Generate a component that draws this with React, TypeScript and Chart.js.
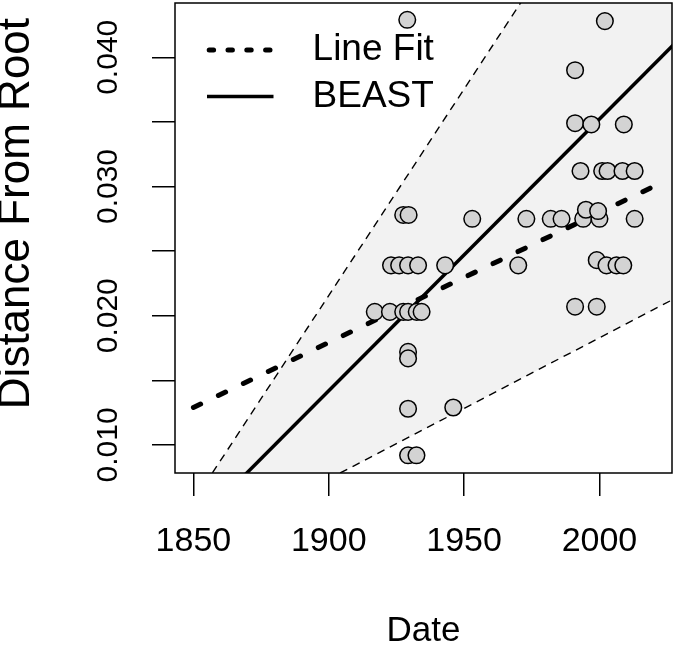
import React, { useEffect, useRef } from 'react';
import { Chart, registerables } from 'chart.js';

Chart.register(...registerables);

// ---- data ----
const sampleDates = [
  1929, 1927.5, 1929.5, 2002, 1991, 1991, 1997, 2009, 1993, 2001, 2003, 2008.5, 2013,
  1953, 1973, 1982, 1986, 1994, 2000, 2013, 1995, 1999.5, 1923, 1926, 1929.3, 1933,
  1943, 1970, 1999, 2002.6, 2006.3, 2008.8, 1917, 1922.6, 1927.5, 1929.3, 1932.5,
  1934.3, 1929.3, 1929.3, 1929.3, 1946, 1929.3, 1932.4, 1991, 1999,
];
const rootDistances = [
  0.0429, 0.0278, 0.0278, 0.0428, 0.039, 0.0349, 0.0348, 0.0348, 0.0312, 0.0312, 0.0312,
  0.0312, 0.0312, 0.0275, 0.0275, 0.0275, 0.0275, 0.0275, 0.0275, 0.0275, 0.0282, 0.0281,
  0.0239, 0.0239, 0.0239, 0.0239, 0.0239, 0.0239, 0.0243, 0.0239, 0.0239, 0.0239, 0.0203,
  0.0203, 0.0203, 0.0203, 0.0203, 0.0203, 0.0172, 0.0167, 0.0128, 0.0129, 0.0092, 0.0092,
  0.0207, 0.0207,
];

const beastLineX = [1840, 2030];
const beastLineY = [0.00158, 0.04153];
const upperBoundX = [1840, 2030];
const upperBoundY = [0.0024, 0.0631];
const lowerBoundX = [1840, 2030];
const lowerBoundY = [0.00082, 0.02157];
const lineFitX = [1850, 2020];
const lineFitY = [0.0129, 0.03];

const xTickValues = [1850, 1900, 1950, 2000];
const yTickValues = [0.01, 0.015, 0.02, 0.025, 0.03, 0.035, 0.04];
const yLabeledTicks = [0.01, 0.02, 0.03, 0.04];

const legendNames = ['Line Fit', 'BEAST'];
const xTitle = 'Date';
const yTitle = 'Distance From Root';

const FONT = "'Liberation Sans', Arial, Helvetica, sans-serif";

const toPoints = (xs: number[], ys: number[]) => xs.map((x, i) => ({ x, y: ys[i] }));

const plotBox = {
  id: 'plotBox',
  afterDatasetsDraw(chart: any) {
    const { ctx, chartArea: a } = chart;
    ctx.save();
    ctx.strokeStyle = '#000';
    ctx.lineWidth = 1.5;
    ctx.strokeRect(a.left, a.top, a.right - a.left, a.bottom - a.top);
    ctx.restore();
  },
};

export default function App() {
  const canvasRef = useRef<HTMLCanvasElement | null>(null);

  useEffect(() => {
    const canvas = canvasRef.current;
    if (!canvas) return;
    const chart = new Chart(canvas, {
      type: 'line',
      data: {
        datasets: [
          {
            label: 'samples',
            data: toPoints(sampleDates, rootDistances),
            showLine: false,
            pointRadius: 8.3,
            pointBorderWidth: 1.5,
            pointBackgroundColor: '#d3d3d3',
            pointBorderColor: '#000',
            order: 0,
          },
          {
            label: legendNames[1],
            data: toPoints(beastLineX, beastLineY),
            borderColor: '#000',
            borderWidth: 3.5,
            pointRadius: 0,
            clip: 0,
            order: 1,
          },
          {
            label: legendNames[0],
            data: toPoints(lineFitX, lineFitY),
            borderColor: '#000',
            borderWidth: 5,
            borderDash: [8, 19.7],
            borderCapStyle: 'round',
            pointRadius: 0,
            clip: 0,
            order: 2,
          },
          {
            label: 'upper',
            data: toPoints(upperBoundX, upperBoundY),
            borderColor: '#000',
            borderWidth: 1.4,
            borderDash: [8, 6],
            backgroundColor: '#f2f2f2',
            fill: '+1',
            pointRadius: 0,
            clip: 0,
            order: 3,
          },
          {
            label: 'lower',
            data: toPoints(lowerBoundX, lowerBoundY),
            borderColor: '#000',
            borderWidth: 1.4,
            borderDash: [8, 6],
            pointRadius: 0,
            fill: false,
            clip: 0,
            order: 4,
          },
        ],
      } as any,
      options: {
        animation: false,
        responsive: false,
        devicePixelRatio: 1,
        layout: { autoPadding: false, padding: { left: 0, top: 3, right: 3, bottom: 0 } },
        scales: {
          x: {
            type: 'linear',
            position: 'bottom',
            min: 1843.2,
            max: 2026.8,
            afterBuildTicks: (s: any) => {
              s.ticks = xTickValues.map((v) => ({ value: v }));
            },
            afterFit: (s: any) => {
              s.height = 176;
              s.paddingLeft = 0;
              s.paddingRight = 0;
            },
            border: { display: false },
            grid: { drawOnChartArea: false, drawTicks: true, tickLength: 23, color: '#000', lineWidth: 1.5 },
            ticks: {
              autoSkip: false,
              minRotation: 0,
              maxRotation: 0,
              padding: 25.6,
              color: '#000',
              font: { family: FONT, size: 34, lineHeight: 1.2 },
              callback: (v: any) => String(v),
            },
            title: {
              display: true,
              text: xTitle,
              color: '#000',
              padding: 0,
              font: { family: FONT, size: 35, lineHeight: '35px' },
            },
          },
          y: {
            type: 'linear',
            position: 'left',
            min: 0.00783,
            max: 0.0442,
            afterBuildTicks: (s: any) => {
              s.ticks = yTickValues.map((v) => ({ value: v }));
            },
            afterFit: (s: any) => {
              s.width = 175;
              s.paddingTop = 0;
              s.paddingBottom = 0;
            },
            border: { display: false },
            grid: { drawOnChartArea: false, drawTicks: true, tickLength: 23, color: '#000', lineWidth: 1.5 },
            ticks: {
              autoSkip: false,
              minRotation: 90,
              maxRotation: 90,
              crossAlign: 'center',
              padding: 6,
              color: '#000',
              font: { family: FONT, size: 30, lineHeight: 1.2 },
              callback: (v: any) =>
                yLabeledTicks.some((t) => Math.abs(t - Number(v)) < 1e-9) ? Number(v).toFixed(3) : '',
            },
            title: {
              display: true,
              text: '    ' + yTitle,
              color: '#000',
              padding: 0,
              font: { family: FONT, size: 44, lineHeight: '34px' },
            },
          },
        },
        plugins: {
          filler: { drawTime: 'beforeDatasetsDraw' },
          tooltip: { enabled: false },
          legend: {
            position: 'chartArea',
            align: 'start',
            title: { display: true, text: '', padding: 0, font: { size: 10, lineHeight: '22px' } },
            labels: {
              color: '#000',
              padding: 9.5,
              usePointStyle: true,
              pointStyleWidth: 89,
              font: { family: FONT, size: 37 },
              generateLabels: () => [
                {
                  text: '  ' + legendNames[0],
                  fontColor: '#000',
                  fillStyle: 'rgba(0,0,0,0)',
                  strokeStyle: '#000',
                  lineWidth: 5,
                  lineCap: 'round',
                  lineDash: [4.4, 14.4, 4.4, 14.4, 4.4, 14.4, 4.4, 40],
                  lineDashOffset: 76.1,
                  pointStyle: 'line',
                  hidden: false,
                  datasetIndex: 2,
                },
                {
                  text: '  ' + legendNames[1],
                  fontColor: '#000',
                  fillStyle: 'rgba(0,0,0,0)',
                  strokeStyle: '#000',
                  lineWidth: 3.5,
                  lineCap: 'butt',
                  lineDash: [66.5, 22.5],
                  lineDashOffset: 66.5,
                  pointStyle: 'line',
                  hidden: false,
                  datasetIndex: 1,
                },
              ],
            },
          },
        },
      } as any,
      plugins: [plotBox],
    });
    return () => chart.destroy();
  }, []);

  return (
    <div style={{ position: 'absolute', left: 0, top: 0, width: 675, height: 649, background: '#fff' }}>
      <canvas ref={canvasRef} width={675} height={649} style={{ display: 'block' }} />
    </div>
  );
}
